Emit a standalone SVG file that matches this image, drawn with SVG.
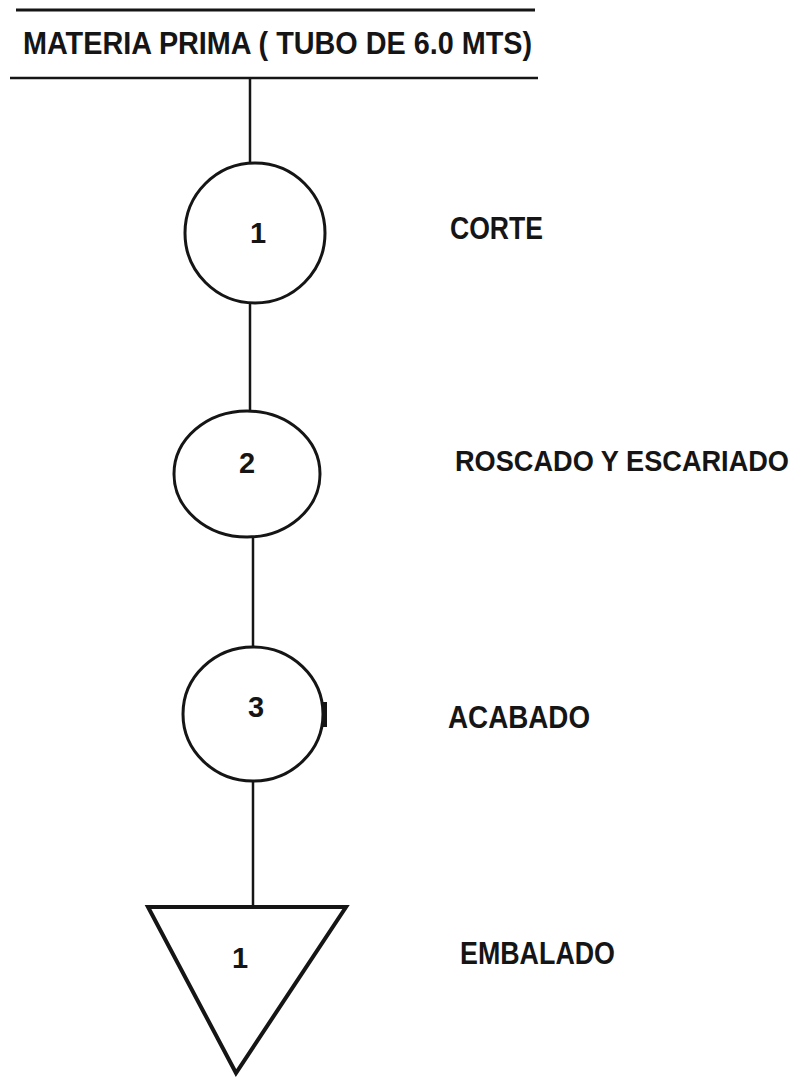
<svg xmlns="http://www.w3.org/2000/svg" width="803" height="1077" viewBox="0 0 803 1077">
<style>
.t{font-family:"Liberation Sans",Arial,sans-serif;font-weight:bold;fill:#151515}
.lbl{font-size:31px}
.num{font-size:29px}
.s{fill:none;stroke:#151515}
</style>
<rect width="803" height="1077" fill="#ffffff"/>
<g id="header">
<line class="s" x1="16" y1="10" x2="535" y2="10" stroke-width="3"/>
<text class="t" x="23" y="54" font-size="31" textLength="509" lengthAdjust="spacingAndGlyphs">MATERIA PRIMA ( TUBO DE 6.0 MTS)</text>
<line class="s" x1="10" y1="78" x2="538" y2="78" stroke-width="2.5"/>
</g>
<g id="connectors">
<line class="s" x1="250" y1="78" x2="250" y2="163" stroke-width="2.5"/>
<line class="s" x1="250" y1="303" x2="250" y2="412" stroke-width="2.5"/>
<line class="s" x1="253" y1="537" x2="253" y2="647" stroke-width="2.5"/>
<line class="s" x1="253" y1="782" x2="253" y2="907" stroke-width="2.5"/>
</g>
<g id="op1">
<ellipse class="s" cx="255" cy="233" rx="70" ry="70" stroke-width="3"/>
<text class="t num" x="258" y="243" text-anchor="middle">1</text>
<text class="t lbl" x="450" y="239" textLength="93" lengthAdjust="spacingAndGlyphs">CORTE</text>
</g>
<g id="op2">
<ellipse class="s" cx="247" cy="474" rx="73" ry="63" stroke-width="3"/>
<text class="t num" x="247" y="473" text-anchor="middle">2</text>
<text class="t" x="455" y="471" font-size="29" textLength="334" lengthAdjust="spacingAndGlyphs">ROSCADO Y ESCARIADO</text>
</g>
<g id="op3">
<ellipse class="s" cx="253" cy="714" rx="70" ry="67" stroke-width="3"/>
<line class="s" x1="325" y1="702" x2="325" y2="727" stroke-width="4"/>
<text class="t num" x="256" y="717" text-anchor="middle">3</text>
<text class="t lbl" x="448" y="728" textLength="142" lengthAdjust="spacingAndGlyphs">ACABADO</text>
</g>
<g id="storage1">
<polygon class="s" points="148,907 346,907 236,1073" stroke-width="4" stroke-linejoin="miter"/>
<text class="t num" x="240" y="968" text-anchor="middle" font-size="25">1</text>
<text class="t lbl" x="460" y="964" textLength="155" lengthAdjust="spacingAndGlyphs">EMBALADO</text>
</g>
</svg>
